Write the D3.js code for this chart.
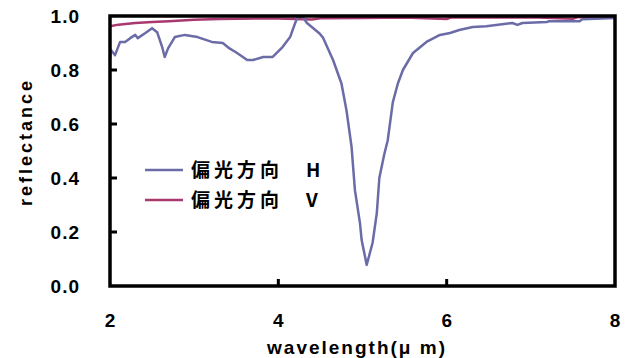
<!DOCTYPE html>
<html>
<head>
<meta charset="utf-8">
<script src="https://cdn.jsdelivr.net/npm/d3@7"></script>
<style>
  body { margin: 0; background: #fff; }
  text { font-family: "Liberation Sans", Arial, sans-serif; font-weight: bold; fill: #000; }
</style>
</head>
<body>
<div id="chart"></div>
<script>
// wavelength (um) and reflectance
const wavelengthH = [2.00, 2.01, 2.06, 2.12, 2.18, 2.24, 2.30, 2.33, 2.42, 2.50, 2.56, 2.62, 2.65, 2.69, 2.77,
    2.89, 3.04, 3.21, 3.34, 3.42, 3.51, 3.63, 3.70, 3.82, 3.93, 4.05, 4.14, 4.20, 4.23, 4.29, 4.34, 4.49,
    4.53, 4.65, 4.75, 4.81, 4.87, 4.91, 4.97, 4.99, 5.05, 5.12, 5.17, 5.20, 5.26, 5.30, 5.36, 5.42, 5.48,
    5.60, 5.76, 5.92, 6.04, 6.15, 6.31, 6.47, 6.78, 6.84, 6.90, 7.19, 7.22, 7.58, 7.61, 8.00];
const reflectH = [0.84, 0.875, 0.855, 0.904, 0.904, 0.918, 0.93, 0.918, 0.937, 0.955, 0.94, 0.885, 0.848, 0.88, 0.922,
    0.93, 0.922, 0.904, 0.90, 0.88, 0.863, 0.837, 0.837, 0.848, 0.848, 0.885, 0.922, 0.974, 0.996, 0.996, 0.974, 0.935,
    0.92, 0.837, 0.75, 0.65, 0.515, 0.355, 0.233, 0.17, 0.078, 0.16, 0.27, 0.40, 0.49, 0.54, 0.68, 0.75, 0.80,
    0.863, 0.904, 0.93, 0.937, 0.948, 0.959, 0.962, 0.974, 0.967, 0.974, 0.978, 0.981, 0.981, 0.988, 0.993];

const wavelengthV = [2.00, 2.10, 2.30, 2.50, 2.70, 3.00, 3.30, 3.50, 4.00, 4.40, 4.50, 5.00, 5.50, 6.00, 6.05,
    6.50, 7.00, 7.50, 7.55, 8.00];
const reflectV = [0.962, 0.968, 0.974, 0.978, 0.981, 0.986, 0.989, 0.990, 0.991, 0.987, 0.992, 0.993, 0.994, 0.989,
    0.994, 0.994, 0.995, 0.990, 0.995, 0.996];

const xTicks = [2, 4, 6, 8];
const yTicks = [0, 0.2, 0.4, 0.6, 0.8, 1.0];
const legendLabels = ["偏光方向\u3000H", "偏光方向\u3000V"];
const colors = ["#6b6ba8", "#a8386e"];

const margin = { top: 16, right: 15, bottom: 72, left: 110 },
      width = 630 - margin.left - margin.right,
      height = 358 - margin.top - margin.bottom;

const svg = d3.select("#chart")
    .append("svg")
    .attr("width", 630)
    .attr("height", 358);

const g = svg.append("g")
    .attr("transform", `translate(${margin.left},${margin.top})`);

const x = d3.scaleLinear().domain([2, 8]).range([0, width]);
const y = d3.scaleLinear().domain([0, 1]).range([height, 0]);

// tick marks pointing inward
g.selectAll(".ytick")
    .data(yTicks.slice(1, -1))
    .enter()
    .append("line")
    .attr("x1", 0).attr("x2", 7)
    .attr("y1", d => y(d)).attr("y2", d => y(d))
    .attr("stroke", "#000").attr("stroke-width", 3);

g.selectAll(".xtick")
    .data(xTicks.slice(1, -1))
    .enter()
    .append("line")
    .attr("x1", d => x(d)).attr("x2", d => x(d))
    .attr("y1", height).attr("y2", height - 7)
    .attr("stroke", "#000").attr("stroke-width", 3);

// tick labels
g.selectAll(".ylab")
    .data(yTicks)
    .enter()
    .append("text")
    .attr("x", -30)
    .attr("y", d => y(d) + 7)
    .attr("text-anchor", "end")
    .style("font-size", "19px")
    .style("letter-spacing", "1px")
    .text(d3.format(".1f"));

g.selectAll(".xlab")
    .data(xTicks)
    .enter()
    .append("text")
    .attr("x", d => x(d))
    .attr("y", height + 41)
    .attr("text-anchor", "middle")
    .style("font-size", "19px")
    .text(d => d);

// series
const lineH = d3.line().x((d, i) => x(wavelengthH[i])).y(d => y(d));
const lineV = d3.line().x((d, i) => x(wavelengthV[i])).y(d => y(d));

g.append("path")
    .datum(reflectV)
    .attr("fill", "none")
    .attr("stroke", colors[1])
    .attr("stroke-width", 2.5)
    .attr("d", lineV);

g.append("path")
    .datum(reflectH)
    .attr("fill", "none")
    .attr("stroke", colors[0])
    .attr("stroke-width", 2.5)
    .attr("stroke-linejoin", "round")
    .attr("d", lineH);

// frame
g.append("rect")
    .attr("x", 0).attr("y", 0)
    .attr("width", width).attr("height", height)
    .attr("fill", "none")
    .attr("stroke", "#000")
    .attr("stroke-width", 3.5);

// legend
const legend = g.selectAll(".legend")
    .data(legendLabels)
    .enter()
    .append("g")
    .attr("transform", (d, i) => `translate(35,${154 + i * 30})`);

legend.append("line")
    .attr("x1", 0).attr("x2", 38)
    .attr("stroke", (d, i) => colors[i])
    .attr("stroke-width", 2.5);

legend.append("text")
    .attr("x", 46)
    .attr("y", 7)
    .style("font-family", "'Noto Sans CJK JP', sans-serif")
    .style("font-size", "19px")
    .style("letter-spacing", "4px")
    .text(d => d);

// axis titles
svg.append("text")
    .attr("transform", "translate(32,142) rotate(-90)")
    .attr("text-anchor", "middle")
    .style("font-size", "18px")
    .style("letter-spacing", "3px")
    .text("reflectance");

svg.append("text")
    .attr("x", 357)
    .attr("y", 354)
    .attr("text-anchor", "middle")
    .style("font-size", "19px")
    .style("letter-spacing", "2px")
    .text("wavelength(μ m)");
</script>
</body>
</html>
